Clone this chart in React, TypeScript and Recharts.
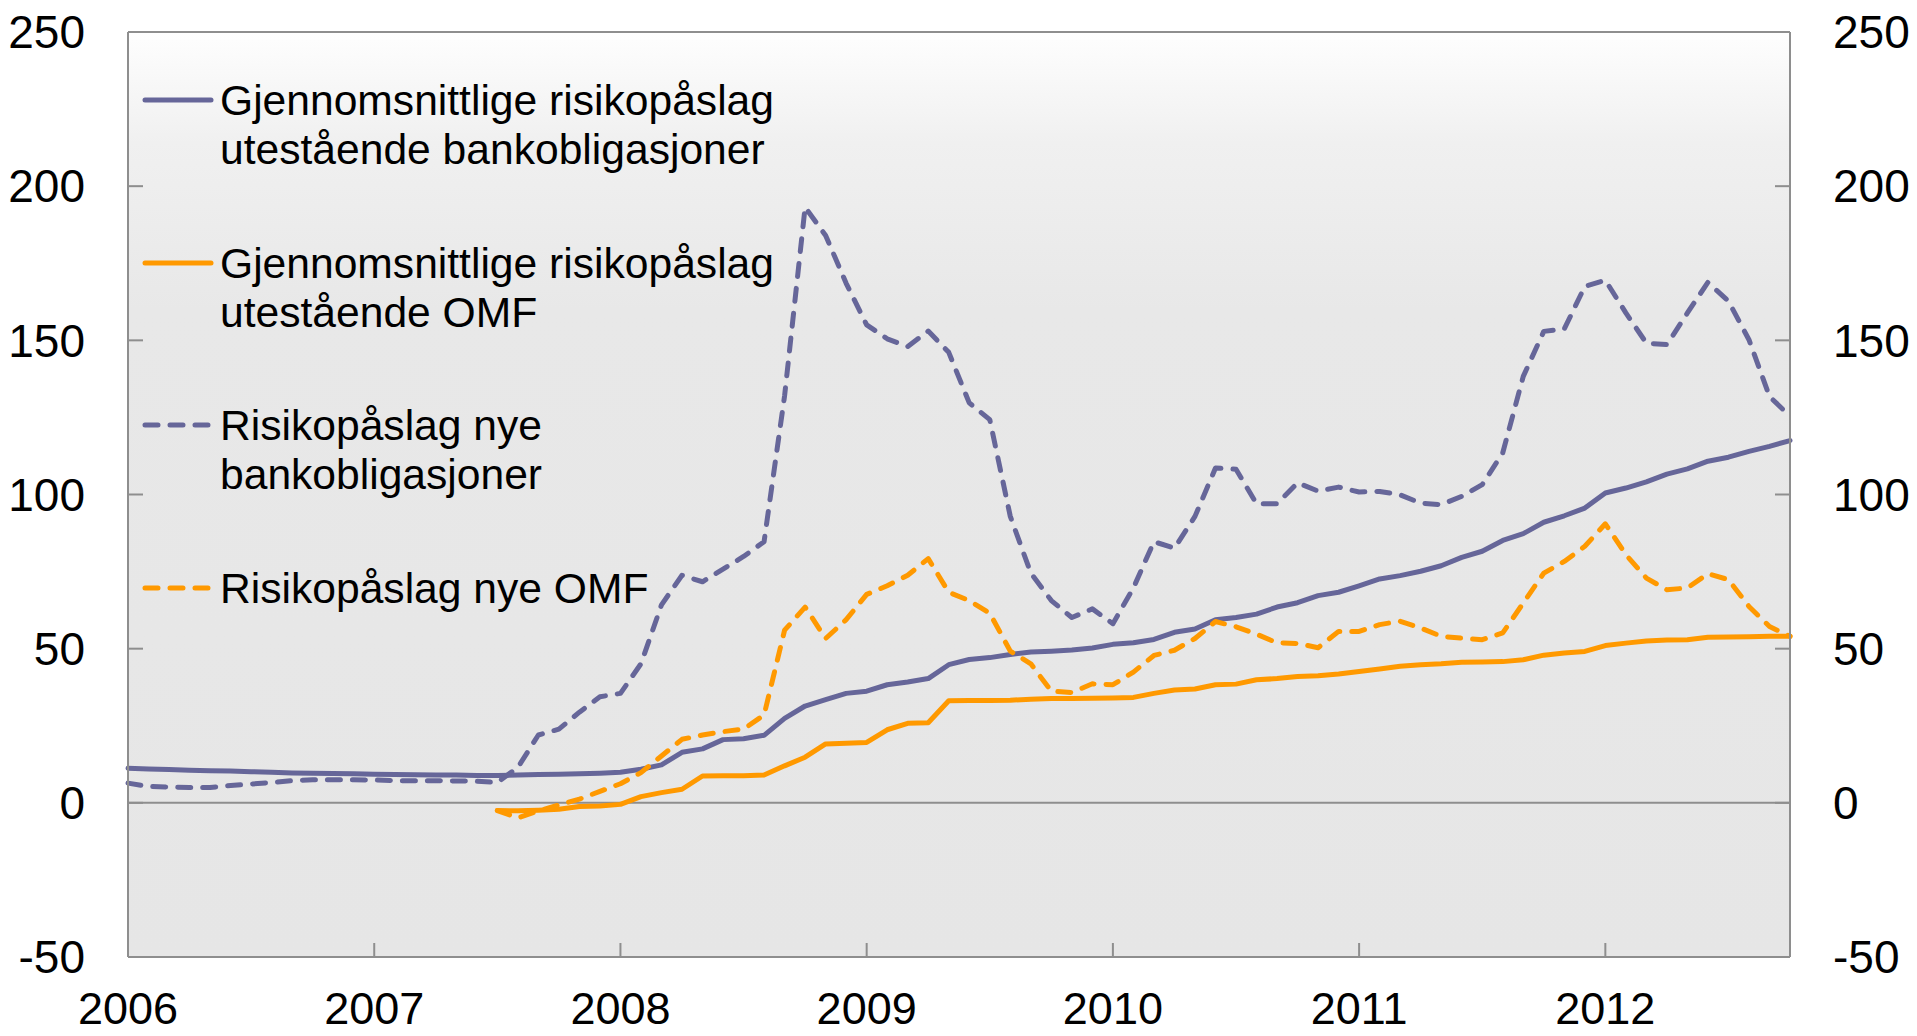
import { LineChart, Line, XAxis, YAxis, ReferenceLine, CartesianGrid } from "recharts";

// month index 0 = jan 2006, 81 = okt 2012
const yearLabels = ["2006", "2007", "2008", "2009", "2010", "2011", "2012"];
const yearTicks = [0, 12, 24, 36, 48, 60, 72];
const valueTicks = [-50, 0, 50, 100, 150, 200, 250];

const seriesNames = [
  ["Gjennomsnittlige risikopåslag", "utestående bankobligasjoner"],
  ["Gjennomsnittlige risikopåslag", "utestående OMF"],
  ["Risikopåslag nye", "bankobligasjoner"],
  ["Risikopåslag nye OMF"],
];

const bankAvg = [
  11.2, 11.0, 10.8, 10.6, 10.4, 10.3, 10.1, 9.9, 9.7, 9.6, 9.5, 9.4, 9.3, 9.2, 9.1, 9.0, 9.0, 8.9,
  8.9, 9.0, 9.2, 9.3, 9.4, 9.6, 9.9, 10.9, 12.3, 16.4, 17.5, 20.5, 20.8, 21.9, 27.4, 31.4, 33.5, 35.5,
  36.2, 38.3, 39.2, 40.3, 44.8, 46.5, 47.1, 48.1, 48.9, 49.2, 49.6, 50.2, 51.4, 51.9, 53.0, 55.3, 56.4, 59.4,
  60.1, 61.2, 63.5, 64.9, 67.2, 68.3, 70.4, 72.6, 73.7, 75.1, 76.9, 79.6, 81.6, 85.1, 87.3, 91.0, 93.1, 95.6,
  100.5, 102.1, 104.1, 106.6, 108.3, 110.8, 112.1, 114.0, 115.6, 117.5,
];

const omfAvg = [
  null, null, null, null, null, null, null, null, null, null, null, null, null, null, null, null, null, null,
  -2.5, -2.6, -2.4, -2.1, -1.2, -1.0, -0.5, 2.0, 3.3, 4.4, 8.7, 8.8, 8.8, 9.0, 12.0, 14.8, 19.1, 19.3,
  19.6, 23.7, 25.8, 26.0, 33.1, 33.2, 33.2, 33.3, 33.6, 33.8, 33.8, 33.9, 34.0, 34.2, 35.5, 36.6, 36.9, 38.3,
  38.5, 39.9, 40.3, 41.0, 41.2, 41.8, 42.6, 43.4, 44.3, 44.8, 45.1, 45.6, 45.7, 45.8, 46.4, 47.9, 48.6, 49.1,
  51.0, 51.8, 52.5, 52.8, 52.9, 53.7, 53.8, 53.9, 54.0, 54.0,
];

const bankNew = [
  6.4, 5.3, 5.1, 5.0, 5.0, 5.6, 6.1, 6.6, 7.2, 7.5, 7.5, 7.5, 7.4, 7.2, 7.2, 7.2, 7.1, 7.0,
  6.6, 11.5, 22.0, 23.9, 29.4, 34.4, 35.5, 45.1, 64.2, 73.8, 71.7, 75.8, 79.9, 84.7, 132.0, 193.2, 184.0, 168.5,
  155.0, 150.5, 148.0, 153.0, 146.1, 129.7, 124.3, 92.9, 74.5, 65.6, 60.1, 62.9, 58.1, 69.7, 84.7, 82.6, 92.9, 108.6,
  108.2, 97.0, 97.0, 103.8, 101.1, 102.4, 100.8, 101.0, 99.9, 97.2, 96.7, 99.4, 103.2, 113.5, 138.3, 152.9, 153.7, 167.5,
  169.5, 158.9, 149.1, 148.6, 158.9, 168.8, 162.7, 150.2, 131.8, 125.4,
];

const omfNew = [
  null, null, null, null, null, null, null, null, null, null, null, null, null, null, null, null, null, null,
  -2.5, -4.9, -2.6, -0.7, 1.2, 3.7, 6.2, 9.8, 15.2, 20.6, 22.0, 23.1, 23.9, 28.5, 56.0, 63.5, 53.3, 59.4,
  67.6, 70.4, 73.8, 79.2, 68.3, 65.6, 61.5, 49.2, 45.1, 36.2, 35.8, 38.6, 38.3, 42.4, 47.8, 49.5, 53.3, 58.8,
  57.1, 54.7, 51.9, 51.7, 50.3, 55.6, 55.6, 57.8, 58.9, 56.7, 54.0, 53.4, 52.9, 55.1, 64.8, 74.5, 78.3, 83.2,
  90.5, 80.5, 72.9, 69.1, 69.7, 74.3, 72.4, 63.7, 57.2, 54.0,
];

const data = bankAvg.map((v, i) => ({
  month: i,
  bankAvg: v,
  omfAvg: omfAvg[i],
  bankNew: bankNew[i],
  omfNew: omfNew[i],
}));

const purple = "#666699";
const orange = "#ff9900";
const axisGrey = "#8e8e8e";
const font = "'Liberation Sans', Arial, sans-serif";
const dash = "13 12";

// dashed series sit on the secondary axis (same scale as the primary one)
const series = [
  { key: "bankAvg", color: purple, dashed: false, axis: "left" },
  { key: "omfAvg", color: orange, dashed: false, axis: "left" },
  { key: "bankNew", color: purple, dashed: true, axis: "right" },
  { key: "omfNew", color: orange, dashed: true, axis: "right" },
];

function LeftTick({ x, y, payload }: any) {
  return (
    <g>
      <line x1={x} x2={x + 15} y1={y} y2={y} stroke={axisGrey} strokeWidth={2} />
      <text x={x - 43} y={y} dy="0.355em" textAnchor="end" fontSize={46} fill="#000" fontFamily={font}>
        {payload.value}
      </text>
    </g>
  );
}

function RightTick({ x, y, payload }: any) {
  return (
    <g>
      <line x1={x - 15} x2={x} y1={y} y2={y} stroke={axisGrey} strokeWidth={2} />
      <text x={x + 43} y={y} dy="0.355em" textAnchor="start" fontSize={46} fill="#000" fontFamily={font}>
        {payload.value}
      </text>
    </g>
  );
}

function BottomTick({ x, y, payload }: any) {
  const label = yearLabels[yearTicks.indexOf(payload.value)];
  return (
    <g>
      <line x1={x} x2={x} y1={y - 14} y2={y} stroke={axisGrey} strokeWidth={2} />
      <text x={x} y={y + 67} textAnchor="middle" fontSize={45} fill="#000" fontFamily={font}>
        {label}
      </text>
    </g>
  );
}

function LegendOverlay() {
  const rowTop = [100, 263, 425, 588];
  return (
    <svg
      width={1917}
      height={1036}
      style={{ position: "absolute", left: 0, top: 0, pointerEvents: "none" }}
    >
      {series.map((s, idx) => (
        <g key={s.key}>
          <line
            x1={145}
            x2={211}
            y1={rowTop[idx]}
            y2={rowTop[idx]}
            stroke={s.color}
            strokeWidth={5}
            strokeLinecap="round"
            strokeDasharray={s.dashed ? dash : undefined}
          />
          {seriesNames[idx].map((line, j) => (
            <text
              key={j}
              x={220}
              y={rowTop[idx] + 15 + j * 49}
              fontSize={42.6}
              fontFamily={font}
              fill="#000"
            >
              {line}
            </text>
          ))}
        </g>
      ))}
    </svg>
  );
}

export default function App() {
  return (
    <div
      style={{
        position: "absolute",
        left: 0,
        top: 0,
        width: 1917,
        height: 1036,
        background: "#fff",
        fontFamily: font,
      }}
    >
      <LineChart
        width={1917}
        height={1036}
        data={data}
        margin={{ top: 32, right: 0, bottom: 0, left: 0 }}
      >
        <defs>
          <linearGradient id="plotBg" x1="0" y1="0" x2="0" y2="1">
            <stop offset="0%" stopColor="#fefefe" />
            <stop offset="12%" stopColor="#f0f0f0" />
            <stop offset="30%" stopColor="#e8e8e8" />
            <stop offset="100%" stopColor="#e6e6e6" />
          </linearGradient>
        </defs>
        <CartesianGrid horizontal={false} vertical={false} fill="url(#plotBg)" stroke="none" />
        <XAxis
          dataKey="month"
          type="number"
          domain={[0, 81]}
          ticks={yearTicks}
          height={79}
          axisLine={{ stroke: axisGrey, strokeWidth: 2 }}
          tickLine={false}
          tickSize={0}
          tickMargin={0}
          tick={<BottomTick />}
          interval={0}
        />
        <YAxis
          yAxisId="left"
          type="number"
          domain={[-50, 250]}
          allowDataOverflow
          ticks={valueTicks}
          width={128}
          axisLine={{ stroke: axisGrey, strokeWidth: 2 }}
          tickLine={false}
          tickSize={0}
          tickMargin={0}
          tick={<LeftTick />}
          interval={0}
        />
        <YAxis
          yAxisId="right"
          orientation="right"
          type="number"
          domain={[-50, 250]}
          allowDataOverflow
          ticks={valueTicks}
          width={127}
          axisLine={{ stroke: axisGrey, strokeWidth: 2 }}
          tickLine={false}
          tickSize={0}
          tickMargin={0}
          tick={<RightTick />}
          interval={0}
        />
        <ReferenceLine yAxisId="left" y={250} stroke={axisGrey} strokeWidth={2} />
        <ReferenceLine yAxisId="left" y={0} stroke={axisGrey} strokeWidth={2} />
        {series.map((s) => (
          <Line
            key={s.key}
            yAxisId={s.axis}
            type="linear"
            dataKey={s.key}
            stroke={s.color}
            strokeWidth={5}
            strokeDasharray={s.dashed ? dash : undefined}
            strokeLinecap="round"
            strokeLinejoin="round"
            dot={false}
            activeDot={false}
            connectNulls={false}
            isAnimationActive={false}
          />
        ))}
      </LineChart>
      <LegendOverlay />
    </div>
  );
}
